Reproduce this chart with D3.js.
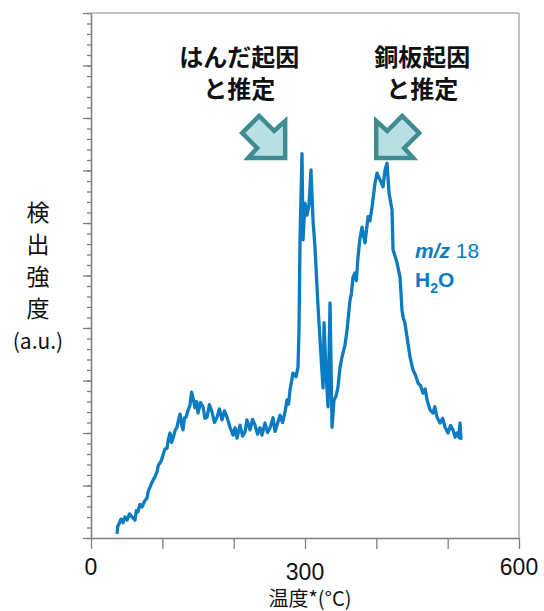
<!DOCTYPE html>
<meta charset='utf-8'>
<style>
body { margin: 0; background: #fff; }
text { font-family: 'Liberation Sans', Arial, sans-serif; }
.jp { font-family: 'Noto Sans CJK JP', sans-serif; }
.axis line, .axis path { stroke: #7f7f7f; }
</style>

<div id='chart'></div>

<script src='https://cdn.jsdelivr.net/npm/d3@7'></script>
<script>

// desorption temperature (°C) vs. detected intensity of m/z 18 (a.u., full scale 100)
const temperature = [36.5,37.5,39.3,42.0,44.9,47.5,50.5,54.0,57.5,61.7,63.5,65.9,68.5,71.5,75.0,78.5,80.5,82.7,
    86.9,89.5,92.5,94.5,96.7,98.8,100.9,103.5,106.6,108.5,110.8,113.0,115.0,118.0,120.6,122.5,124.8,127.0,129.0,
    131.0,133.2,136.0,138.8,141.0,143.0,145.8,147.9,150.0,153.5,157.0,159.8,162.6,166.0,169.6,173.0,176.7,180.0,183.7,
    187.0,190.7,194.9,199.1,202.0,204.7,208.9,212.5,215.9,218.7,222.9,226.5,229.9,233.5,236.9,
    239.7,243.9,247.5,251.0,255.2,258.0,260.8,265.0,268.5,272.0,274.8,277.0,279.0,281.0,283.2,
    287.4,290.2,291.6,293.0,295.8,297.2,300.0,302.8,305.6,308.4,
    311.2,314.0,318.3,322.5,325.3,326.7,329.5,332.3,335.1,337.9,
    340.7,343.5,346.3,349.0,351.9,356.1,358.9,363.1,365.0,367.3,370.1,372.0,374.3,377.0,379.9,
    384.1,388.4,391.0,394.0,398.2,401.0,405.2,409.4,412.2,415.0,417.8,
    422.0,423.4,426.0,429.0,433.2,436.0,437.4,440.0,443.0,447.2,451.4,455.0,458.5,462.0,
    465.5,468.5,471.1,475.3,479.5,482.0,485.1,489.3,493.0,496.3,500.5,504.0,507.5,510.5,513.1,
    515.5,517.3,518.7];

const intensity = [0.8,2.2,2.7,3.6,2.9,4.0,3.4,4.6,4.0,3.4,5.2,5.0,6.4,5.9,7.0,7.6,9.0,9.7,
    11.0,11.6,12.6,13.9,14.3,14.8,15.8,16.9,17.1,18.8,20.0,18.2,19.0,20.5,21.1,22.4,23.6,21.6,20.6,
    22.9,23.0,24.3,25.3,27.8,26.7,24.8,26.0,23.8,25.8,25.0,22.8,23.0,25.4,24.0,22.0,23.0,24.6,22.5,
    24.2,23.0,21.1,19.6,21.0,19.0,21.5,19.4,20.2,22.5,20.6,22.6,21.5,19.8,21.0,
    19.6,21.9,20.1,21.0,22.9,20.3,21.5,23.4,22.0,24.0,26.3,25.5,28.2,29.7,31.4,
    30.7,32.6,39.6,56.8,73.2,56.8,63.8,61.5,63.4,70.1,
    60.6,55.4,44.0,34.5,28.6,41.0,31.4,25.0,44.8,21.1,
    26.3,27.0,28.8,32.4,34.5,36.8,39.6,45.3,46.5,49.7,50.5,49.0,53.5,57.0,59.2,
    56.2,61.2,60.4,63.1,67.6,69.5,68.2,66.9,70.1,71.4,65.7,
    62.5,54.9,53.8,52.4,49.7,43.4,42.1,41.0,38.3,34.5,32.0,31.0,29.5,29.0,
    27.6,28.4,26.3,24.4,23.8,25.0,23.0,21.9,22.8,21.1,20.0,21.4,20.6,19.2,20.0,
    19.2,21.9,18.7];

const xTicks = [0, 100, 200, 300, 400, 500, 600];
const xLabels = [0, 300, 600];
const yMajorTicks = d3.range(0, 101, 10);
const yMinorTicks = d3.range(0, 101, 2);

const yLabelChars = ['検', '出', '強', '度', '(a.u.)'];
const xTitle = '温度*(°C)';
const seriesLabel = ['m/z', '18'];
// annotations: text lines, temperature / intensity of the arrow tip, direction
const notes = [
    {lines: ['はんだ起因', 'と推定'], t: 275, v: 72, dir: 1},
    {lines: ['銅板起因', 'と推定'], t: 397, v: 72, dir: -1}
];

const width = 544, height = 611;
const margin = {top: 13, left: 91, right: 25, bottom: 73};
const plotW = width - margin.left - margin.right,
      plotH = height - margin.top - margin.bottom;

const svg = d3.select('#chart')
    .append('svg')
        .attr('width', width)
        .attr('height', height);

const g = svg.append('g')
    .attr('transform', 'translate(' + margin.left + ',' + margin.top + ')');

const x = d3.scaleLinear()
    .domain([0, 600])
    .range([0, plotW]);

const y = d3.scaleLinear()
    .domain([0, 100])
    .range([plotH, 0]);

// frame top and right
g.append('path')
    .attr('d', 'M0,0H' + plotW + 'V' + plotH)
    .attr('fill', 'none')
    .attr('stroke', '#8c8c8c')
    .attr('stroke-width', 1);

// y axis: minor + major ticks, no labels
g.append('g')
    .attr('class', 'axis')
    .call(d3.axisLeft(y).tickValues(yMinorTicks).tickSize(4).tickFormat(''))
    .call(a => a.select('.domain').remove())
    .selectAll('line').attr('stroke-width', 1.3);

g.append('g')
    .attr('class', 'axis')
    .call(d3.axisLeft(y).tickValues(yMajorTicks).tickSize(8).tickSizeOuter(0).tickFormat(''))
    .call(a => a.select('.domain').attr('stroke-width', 1.6))
    .selectAll('line').attr('stroke-width', 1.3);

// x axis
g.append('g')
    .attr('class', 'axis')
    .attr('transform', 'translate(0,' + plotH + ')')
    .call(d3.axisBottom(x).tickValues(xTicks).tickSize(11).tickSizeOuter(0).tickFormat(''))
    .call(a => a.select('.domain').attr('stroke-width', 1.6))
    .selectAll('line').attr('stroke-width', 1.3);

g.selectAll('.xlab')
    .data(xLabels)
    .join('text')
        .attr('class', 'xlab')
        .attr('x', d => x(d))
        .attr('y', d => d === 300 ? plotH + 42 : plotH + 37)
        .attr('text-anchor', 'middle')
        .attr('font-size', 23)
        .attr('fill', '#111')
        .text(d => d);

svg.append('text')
    .attr('class', 'jp')
    .attr('x', 310)
    .attr('y', 606)
    .attr('text-anchor', 'middle')
    .attr('font-size', 20)
    .attr('fill', '#111')
    .text(xTitle);

// vertical y title
svg.selectAll('.ylab')
    .data(yLabelChars)
    .join('text')
        .attr('class', 'ylab jp')
        .attr('x', 38)
        .attr('y', (d, i) => 221 + i * 32)
        .attr('text-anchor', 'middle')
        .attr('font-size', d => d.length > 1 ? 21 : 23)
        .attr('fill', '#111')
        .text(d => d);

// data line
const line = d3.line()
    .x(d => x(d[0]))
    .y(d => y(d[1]));

g.append('path')
    .datum(d3.zip(temperature, intensity))
    .attr('d', line)
    .attr('fill', 'none')
    .attr('stroke', '#0b7cc1')
    .attr('stroke-width', 3.3)
    .attr('stroke-linejoin', 'round');

// series label
const lbl = g.append('g')
    .attr('fill', '#0b7cc1')
    .attr('font-weight', 'bold')
    .attr('font-size', 21);

const t1 = lbl.append('text')
    .attr('x', 324)
    .attr('y', 245);
t1.append('tspan').attr('font-style', 'italic').text(seriesLabel[0]);
t1.append('tspan').attr('font-weight', 'normal').text(' ' + seriesLabel[1]);

const t2 = lbl.append('text')
    .attr('x', 324)
    .attr('y', 274);
t2.append('tspan').text('H');
t2.append('tspan').attr('font-size', 14).attr('dy', 6).text('2');
t2.append('tspan').attr('dy', -6).text('O');

// block arrows pointing at the peaks, tip at origin, pointing down-right
const arrowShape = [[-2,-2],[-2,-39],[-13,-29],[-28,-44],[-45,-27],[-30,-12],[-39,-2]];

notes.forEach(n => {
    const tipX = x(n.t), tipY = y(n.v);
    g.append('polygon')
        .attr('points', arrowShape.map(p => p.join(',')).join(' '))
        .attr('transform', 'translate(' + tipX + ',' + tipY + ') scale(' + n.dir + ',1)')
        .attr('fill', '#b8dfe1')
        .attr('stroke', '#3e8c8f')
        .attr('stroke-width', 4.5)
        .attr('stroke-linejoin', 'miter');

    const cx = tipX - n.dir * 48;
    n.lines.forEach((s, i) => {
        g.append('text')
            .attr('class', 'jp')
            .attr('x', cx)
            .attr('y', 53 + i * 32)
            .attr('text-anchor', 'middle')
            .attr('font-size', 24)
            .attr('font-weight', 'bold')
            .attr('fill', '#111')
            .text(s);
    });
});

</script>
